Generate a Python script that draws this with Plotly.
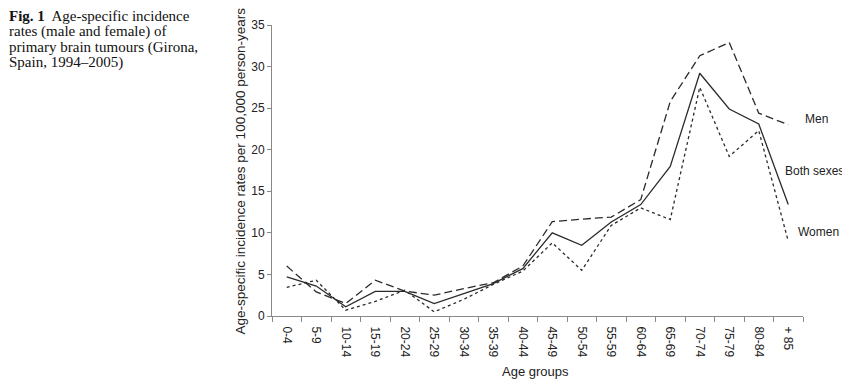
import plotly.graph_objects as go

age_groups = ["0-4", "5-9", "10-14", "15-19", "20-24", "25-29", "30-34", "35-39", "40-44",
              "45-49", "50-54", "55-59", "60-64", "65-69", "70-74", "75-79", "80-84", "+ 85"]
men = [6.0, 2.9, 1.5, 4.3, 3.0, 2.5, 3.3, 4.0, 6.0, 11.35, 11.65, 11.9, 14.0, 25.8, 31.3, 32.9, 24.4, 23.0]
both = [4.7, 3.6, 1.1, 2.95, 2.95, 1.5, 2.7, 3.9, 5.7, 10.0, 8.5, 11.3, 13.4, 18.0, 29.2, 24.9, 23.1, 13.4]
women = [3.45, 4.3, 0.7, 1.75, 3.1, 0.5, 2.0, 3.8, 5.4, 8.8, 5.5, 10.9, 13.0, 11.6, 27.5, 19.2, 22.3, 9.0]
y_ticks = [0, 5, 10, 15, 20, 25, 30, 35]
caption_lines = ["<b>Fig. 1</b>  Age-specific incidence", "rates (male and female) of",
                 "primary brain tumours (Girona,", "Spain, 1994–2005)"]

line_col = "#2b2b2b"
font_sans = "Liberation Sans, Arial, sans-serif"
font_serif = "Liberation Serif, Times New Roman, serif"

# page offset (body margin) compensation: plot area spans px x 272..803, y 18..316
X0, X1, Y0, Y1 = 272, 803, 18, 316
def px(xp):
    return (xp - X0) / (X1 - X0)
def py(yp):
    return (Y1 - yp) / (Y1 - Y0)

fig = go.Figure()
fig.add_trace(go.Scatter(x=age_groups, y=men, mode="lines",
                         line=dict(color=line_col, width=1.3, dash="8px,4px"), name="Men"))
fig.add_trace(go.Scatter(x=age_groups, y=both, mode="lines",
                         line=dict(color=line_col, width=1.3), name="Both sexes"))
fig.add_trace(go.Scatter(x=age_groups, y=women, mode="lines",
                         line=dict(color=line_col, width=1.3, dash="dot"), name="Women"))

fig.update_layout(
    width=842, height=375,
    margin=dict(l=264, r=47, t=10, b=67),
    paper_bgcolor="white", plot_bgcolor="white",
    showlegend=False,
    font=dict(family=font_sans, size=12, color="#222"),
    xaxis=dict(type="category", range=[-0.5, 17.5], showline=True, linecolor="#888", linewidth=1,
               ticks="outside", tickson="boundaries", ticklen=5, tickcolor="#888",
               tickangle=90, tickfont=dict(size=12, color="#222"), ticklabelstandoff=7,
               showgrid=False, zeroline=False),
    yaxis=dict(range=[0, 35], tickvals=y_ticks, showline=True, linecolor="#888", linewidth=1,
               ticks="outside", ticklen=4, tickcolor="#888", tickfont=dict(size=12, color="#222"),
               showgrid=False, zeroline=False),
)

for text, xl, yv in [("Men", 803, 23.7), ("Both sexes", 783, 17.4), ("Women", 796, 10.1)]:
    fig.add_annotation(text=text, xref="paper", yref="y", x=px(xl), y=yv, xanchor="left",
                       yanchor="middle", showarrow=False,
                       font=dict(family=font_sans, size=12, color="#222"))

fig.add_annotation(text="Age-specific incidence rates per 100,000 person-years", textangle=-90,
                   xref="paper", yref="paper", x=px(240), y=py(168), showarrow=False,
                   xanchor="center", yanchor="middle", font=dict(family=font_sans, size=13.5, color="#222"))
fig.add_annotation(text="Age groups", xref="paper", yref="paper", x=px(535), y=py(373),
                   showarrow=False, xanchor="center", yanchor="middle",
                   font=dict(family=font_sans, size=13, color="#222"))
for i, line in enumerate(caption_lines):
    fig.add_annotation(text=line, xref="paper", yref="paper", x=px(7), y=py(9 + 15.8 * i),
                       showarrow=False, xanchor="left", yanchor="middle", align="left",
                       font=dict(family=font_serif, size=15, color="#111"))

fig.write_html("out.html")
